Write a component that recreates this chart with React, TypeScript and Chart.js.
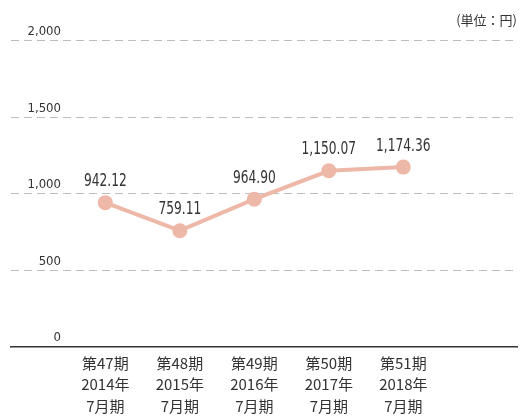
import React, { useEffect, useRef } from "react";
import { Chart, registerables } from "chart.js";

Chart.register(...registerables);

const periods = ["第47期", "第48期", "第49期", "第50期", "第51期"];
const years = ["2014年", "2015年", "2016年", "2017年", "2018年"];
const months = ["7月期", "7月期", "7月期", "7月期", "7月期"];
const values = [942.12, 759.11, 964.9, 1150.07, 1174.36];
const valueLabels = ["942.12", "759.11", "964.90", "1,150.07", "1,174.36"];
const yTicks = [0, 500, 1000, 1500, 2000];
const unitLabel = "(単位：円)";

const LINE_COLOR = "#EDB8A7";
const TEXT_COLOR = "#333333";
const CONDENSED = '"DejaVu Sans Condensed", sans-serif';

const dataLabelPlugin = {
  id: "dataLabels",
  afterDatasetsDraw(chart: any) {
    const ctx = chart.ctx;
    const meta = chart.getDatasetMeta(0);
    ctx.save();
    ctx.fillStyle = TEXT_COLOR;
    ctx.font = "17px " + CONDENSED;
    ctx.textAlign = "center";
    ctx.textBaseline = "middle";
    meta.data.forEach((pt: any, i: number) => {
      ctx.save();
      ctx.translate(pt.x, pt.y - 21);
      ctx.scale(0.8, 1);
      ctx.fillText(valueLabels[i], 0, 0);
      ctx.restore();
    });
    ctx.restore();
  },
};

export default function App() {
  const ref = useRef<HTMLCanvasElement | null>(null);
  useEffect(() => {
    document.body.style.margin = "0";
    if (!ref.current) return;
    const chart = new Chart(ref.current, {
      type: "line",
      data: {
        datasets: [
          {
            data: values.map((v, i) => ({ x: i, y: v })),
            borderColor: LINE_COLOR,
            backgroundColor: LINE_COLOR,
            borderWidth: 4,
            pointRadius: 7.5,
            pointHoverRadius: 7.5,
            pointBackgroundColor: LINE_COLOR,
            pointBorderWidth: 0,
            tension: 0,
          },
        ],
      },
      options: {
        animation: false,
        responsive: false,
        layout: { padding: { left: 11, right: 10, top: 0, bottom: 0 } },
        plugins: {
          legend: { display: false },
          tooltip: { enabled: false },
          title: {
            display: true,
            text: unitLabel,
            align: "end",
            color: TEXT_COLOR,
            font: { family: '"Noto Sans CJK JP", sans-serif', size: 13, weight: "normal", lineHeight: 1.2 },
            padding: { top: 12, bottom: 13 },
          },
        },
        scales: {
          x: {
            type: "linear",
            min: -1.266,
            max: 5.526,
            afterBuildTicks: (axis: any) => {
              axis.ticks = periods.map((_, i) => ({ value: i }));
            },
            afterFit: (axis: any) => {
              axis.height = 70;
            },
            grid: { display: false, drawTicks: false },
            border: { display: true, color: "#333333", width: 1.5 },
            ticks: {
              autoSkip: false,
              maxRotation: 0,
              padding: 5,
              color: TEXT_COLOR,
              font: { family: '"Noto Sans CJK JP", sans-serif', size: 15, lineHeight: 1.45 },
              callback: (v: any) => {
                const i = Math.round(Number(v));
                return [periods[i], years[i], months[i]];
              },
            },
          },
          y: {
            min: 0,
            max: 2000,
            afterBuildTicks: (axis: any) => {
              axis.ticks = yTicks.map((v) => ({ value: v }));
            },
            afterFit: (axis: any) => {
              axis.width = 0;
            },
            grid: {
              color: (c: any) => (c.tick && c.tick.value === 0 ? "rgba(0,0,0,0)" : "#BDBDBD"),
              lineWidth: 1,
              drawTicks: false,
            },
            border: { display: false, dash: [8, 5] },
            ticks: {
              mirror: true,
              crossAlign: "far",
              padding: 16.5,
              labelOffset: -9,
              color: TEXT_COLOR,
              font: { family: CONDENSED, size: 13 },
              callback: (v: any) => Number(v).toLocaleString("en-US"),
            },
          },
        },
      } as any,
      plugins: [dataLabelPlugin],
    });
    return () => chart.destroy();
  }, []);
  return (
    <div style={{ width: 527, height: 417 }}>
      <canvas ref={ref} width={527} height={417} />
    </div>
  );
}
